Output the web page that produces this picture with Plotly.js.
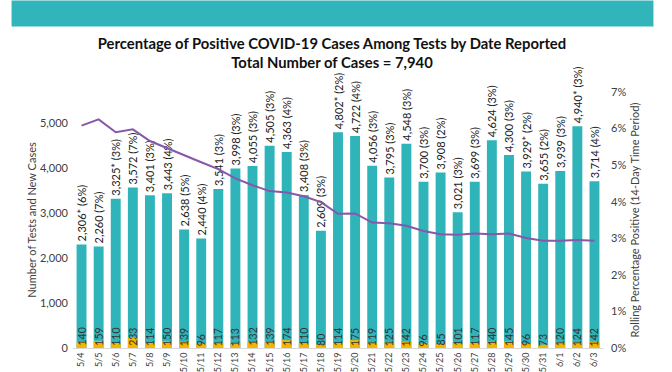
<!DOCTYPE html>
<html>
<head>
<meta charset="utf-8">
<script src="https://cdn.plot.ly/plotly-3.0.1.min.js"></script>
<style>html,body{margin:0;padding:0;background:#fff;}#chart{width:672px;height:372px;}</style>
</head>
<body>
<div id="chart"></div>
<script>
const dates = ["5/4","5/5","5/6","5/7","5/8","5/9","5/10","5/11","5/12","5/13","5/14","5/15","5/16","5/17","5/18","5/19","5/20","5/21","5/22","5/23","5/24","5/25","5/26","5/27","5/28","5/29","5/30","5/31","6/1","6/2","6/3"];
const tests = [2306,2260,3325,3572,3401,3443,2638,2440,3541,3998,4055,4505,4363,3408,2609,4802,4722,4056,3795,4548,3700,3908,3021,3699,4624,4300,3929,3655,3939,4940,3714];
const testLabels = ["2,306* (6%)","2,260 (7%)","3,325* (3%)","3,572 (7%)","3,401 (3%)","3,443 (4%)","2,638 (5%)","2,440 (4%)","3,541 (3%)","3,998 (3%)","4,055 (3%)","4,505 (3%)","4,363 (4%)","3,408 (3%)","2,609 (3%)","4,802* (2%)","4,722 (4%)","4,056 (3%)","3,795 (3%)","4,548 (3%)","3,700 (3%)","3,908 (2%)","3,021 (3%)","3,699 (3%)","4,624 (3%)","4,300 (3%)","3,929* (2%)","3,655 (2%)","3,939 (3%)","4,940* (3%)","3,714 (4%)"];
const newCases = [140,159,110,233,114,150,139,96,117,113,132,139,174,110,80,114,175,119,125,142,96,85,101,117,140,145,96,73,120,124,142];
const rollingPct = [6.08,6.25,5.90,5.98,5.66,5.46,5.27,5.08,4.89,4.64,4.45,4.29,4.25,4.15,3.99,3.67,3.68,3.43,3.41,3.34,3.20,3.11,3.10,3.13,3.11,3.13,3.01,2.93,2.93,2.95,2.93];
const leftTicks = [0,1000,2000,3000,4000,5000];
const leftTickText = ["0","1,000","2,000","3,000","4,000","5,000"];
const rightTicks = [0,1,2,3,4,5,6,7];
const rightTickText = ["0%","1%","2%","3%","4%","5%","6%","7%"];

const FONT = "Lato, 'Open Sans', sans-serif";
const TEAL = "#2FB4BA";
const YELLOW = "#F4B400";
const PURPLE = "#8757AA";
const GREY = "#404040";

const traces = [
  {
    type: "bar", x: dates, y: tests, marker: {color: TEAL},
    text: testLabels, textposition: "outside", textangle: -90,
    outsidetextfont: {family: FONT, size: 11, color: "#222"},
    constraintext: "none", cliponaxis: false, hoverinfo: "skip"
  },
  {
    type: "bar", x: dates, y: newCases, marker: {color: YELLOW}, hoverinfo: "skip"
  },
  {
    type: "scatter", mode: "lines", x: dates, y: rollingPct, yaxis: "y2",
    line: {color: PURPLE, width: 2}, hoverinfo: "skip"
  }
];

const annotations = dates.map((d, i) => ({
  x: d, y: 0, xref: "x", yref: "y", text: String(newCases[i]),
  textangle: -90, showarrow: false, yanchor: "bottom", xanchor: "center", yshift: 0,
  font: {family: FONT, size: 10.5, color: "#333"}
}));
annotations.push({
  xref: "paper", yref: "paper", x: (635 - 73) / 530.5, y: 0.5, xanchor: "center", yanchor: "middle",
  text: "Rolling Percentage Positive (14-Day Time Period)", textangle: -90, showarrow: false,
  font: {family: FONT, size: 11, color: GREY}
});

const layout = {
  width: 672, height: 372,
  margin: {l: 73, r: 68.5, t: 91.7, b: 24},
  paper_bgcolor: "#fff", plot_bgcolor: "rgba(0,0,0,0)",
  font: {family: FONT, color: GREY},
  showlegend: false,
  barmode: "overlay", bargap: 0.42,
  title: {
    text: "<b>Percentage of Positive COVID-19 Cases Among Tests by Date Reported<br>Total Number of Cases = 7,940</b>",
    x: 0.494, xref: "container", xanchor: "center",
    y: 1 - 49/372, yref: "container", yanchor: "middle",
    font: {family: FONT, size: 14.8, color: "#111"}
  },
  xaxis: {
    type: "category", tickangle: -90, tickfont: {family: FONT, size: 9, color: GREY},
    showline: true, linecolor: "#d9d9d9", linewidth: 1, ticks: "", showgrid: false, automargin: false
  },
  yaxis: {
    range: [0, 5700], tickmode: "array", tickvals: leftTicks, ticktext: leftTickText, showgrid: false, zeroline: false,
    tickfont: {family: FONT, size: 11, color: GREY}, ticks: "", automargin: false, ticklabelstandoff: 4,
    title: {text: "Number of Tests and New Cases", font: {family: FONT, size: 11, color: GREY}, standoff: 1}
  },
  yaxis2: {
    overlaying: "y", side: "right", range: [0, 7], tickmode: "array", tickvals: rightTicks, ticktext: rightTickText,
    showgrid: false, zeroline: false, ticks: "", automargin: false, ticklabelstandoff: 7,
    tickfont: {family: FONT, size: 11, color: GREY}
  },
  shapes: [
    {type: "rect", xref: "paper", yref: "paper", x0: -61.5/530.5, x1: (654-73)/530.5, y0: (348-26)/256.3, y1: (348)/256.3,
     fillcolor: "#31B5BA", line: {width: 0}, layer: "below"}
  ],
  annotations: annotations
};

Plotly.newPlot("chart", traces, layout, {displayModeBar: false, staticPlot: true});
</script>
</body>
</html>
